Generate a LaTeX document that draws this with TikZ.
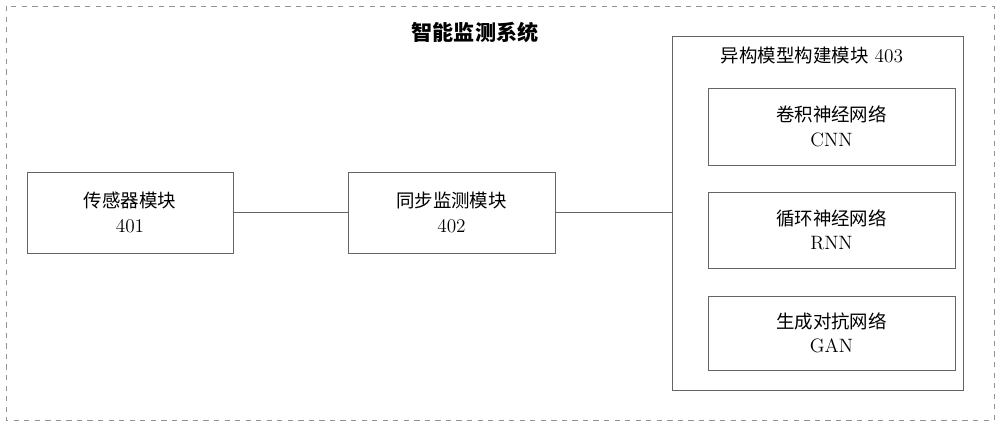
\documentclass[tikz,border=0pt]{standalone}
\usepackage{fontspec}
\newfontfamily\cjk{Noto Sans CJK SC}
\usetikzlibrary{positioning}
\definecolor{edge}{RGB}{100,100,100}
\tikzset{
	modbox/.style={draw=edge, line width=0.5pt, align=center, font=\fontsize{11}{14}\selectfont},
	link/.style={draw=edge, line width=0.5pt}
}
\begin{document}
\begin{tikzpicture}[x=0.02cm,y=-0.02cm]
	\useasboundingbox (0,0) rectangle (1000,426);
	\draw[edge!70, dashed, line width=0.5pt] (6,6) rectangle (994,420);
	\node (title) at (475,32) {\cjk\bfseries\fontsize{12}{14}\selectfont 智能监测系统};
	% modules
	\node[modbox, minimum width=4.12cm, minimum height=1.62cm] (s401) at (130,212.5) {{\cjk\fontsize{10.5}{14}\selectfont 传感器模块}\\401};
	\node[modbox, minimum width=4.14cm, minimum height=1.62cm] (s402) at (451.5,212.5) {{\cjk\fontsize{10.5}{14}\selectfont 同步监测模块}\\402};
	\draw[link] (672,36) coordinate (hl) rectangle (963,390) coordinate (hr);
	\node[font=\fontsize{11}{14}\selectfont] (t403) at (812,56) {{\cjk\fontsize{10.5}{14}\selectfont 异构模型构建模块} 403};
	\node[modbox, minimum width=4.94cm, minimum height=1.54cm] (cnn) at (831.5,126.5) {{\cjk\fontsize{10.5}{14}\selectfont 卷积神经网络}\\CNN};
	\node[modbox, minimum width=4.94cm, minimum height=1.52cm] (rnn) at (831.5,230) {{\cjk\fontsize{10.5}{14}\selectfont 循环神经网络}\\RNN};
	\node[modbox, minimum width=4.94cm, minimum height=1.48cm] (gan) at (831.5,333) {{\cjk\fontsize{10.5}{14}\selectfont 生成对抗网络}\\GAN};
	\coordinate (h403) at (672,212.5);
	% connectors
	\draw[link] (s401.east) -- (s402.west);
	\draw[link] (s402.east) -- (h403);
\end{tikzpicture}
\end{document}
